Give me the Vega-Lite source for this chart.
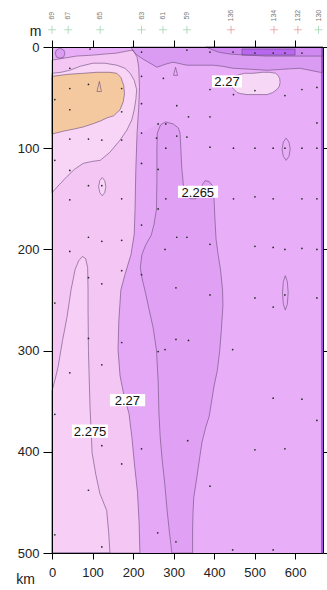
{
"$schema":"https://vega.github.io/schema/vega-lite/v6.json",
"width":271,"height":506,
"autosize":{"type":"none"},
"padding":{"left":52,"top":47,"right":4,"bottom":37},
"background":"white",
"config":{"view":{"stroke":null},"font":"Liberation Sans"},
"datasets":{
"polys":[
{"poly":"p00","zone":"base","i":0,"km":0,"m":0},{"poly":"p00","zone":"base","i":1,"km":669,"m":0},{"poly":"p00","zone":"base","i":2,"km":669,"m":500},{"poly":"p00","zone":"base","i":3,"km":0,"m":500},{"poly":"p00","zone":"base","i":4,"km":0,"m":0},
{"poly":"p01","zone":"topband","i":0,"km":195,"m":0},{"poly":"p01","zone":"topband","i":1,"km":669,"m":0},{"poly":"p01","zone":"topband","i":2,"km":669,"m":25},{"poly":"p01","zone":"topband","i":3,"km":662,"m":25},{"poly":"p01","zone":"topband","i":4,"km":612,"m":21},{"poly":"p01","zone":"topband","i":5,"km":570,"m":22},{"poly":"p01","zone":"topband","i":6,"km":531,"m":23},{"poly":"p01","zone":"topband","i":7,"km":490,"m":22},{"poly":"p01","zone":"topband","i":8,"km":447,"m":21},{"poly":"p01","zone":"topband","i":9,"km":420,"m":19},{"poly":"p01","zone":"topband","i":10,"km":398,"m":18},{"poly":"p01","zone":"topband","i":11,"km":365,"m":18},{"poly":"p01","zone":"topband","i":12,"km":333,"m":18},{"poly":"p01","zone":"topband","i":13,"km":310,"m":16},{"poly":"p01","zone":"topband","i":14,"km":299,"m":15},{"poly":"p01","zone":"topband","i":15,"km":280,"m":17},{"poly":"p01","zone":"topband","i":16,"km":259,"m":20},{"poly":"p01","zone":"topband","i":17,"km":242,"m":16},{"poly":"p01","zone":"topband","i":18,"km":225,"m":12},{"poly":"p01","zone":"topband","i":19,"km":210,"m":8},{"poly":"p01","zone":"topband","i":20,"km":200,"m":4},{"poly":"p01","zone":"topband","i":21,"km":195,"m":0},
{"poly":"p02","zone":"band2","i":0,"km":380,"m":0},{"poly":"p02","zone":"band2","i":1,"km":669,"m":0},{"poly":"p02","zone":"band2","i":2,"km":669,"m":9},{"poly":"p02","zone":"band2","i":3,"km":630,"m":9},{"poly":"p02","zone":"band2","i":4,"km":580,"m":9},{"poly":"p02","zone":"band2","i":5,"km":530,"m":9},{"poly":"p02","zone":"band2","i":6,"km":480,"m":8},{"poly":"p02","zone":"band2","i":7,"km":440,"m":7},{"poly":"p02","zone":"band2","i":8,"km":410,"m":5},{"poly":"p02","zone":"band2","i":9,"km":392,"m":2},{"poly":"p02","zone":"band2","i":10,"km":380,"m":0},
{"poly":"p03","zone":"strip","i":0,"km":469,"m":2},{"poly":"p03","zone":"strip","i":1,"km":600,"m":2},{"poly":"p03","zone":"strip","i":2,"km":600,"m":8},{"poly":"p03","zone":"strip","i":3,"km":469,"m":8},{"poly":"p03","zone":"strip","i":4,"km":469,"m":2},
{"poly":"p04","zone":"redge","i":0,"km":664,"m":0},{"poly":"p04","zone":"redge","i":1,"km":669,"m":0},{"poly":"p04","zone":"redge","i":2,"km":669,"m":500},{"poly":"p04","zone":"redge","i":3,"km":664,"m":500},{"poly":"p04","zone":"redge","i":4,"km":664,"m":0},
{"poly":"p05","zone":"patch","i":0,"km":440,"m":36},{"poly":"p05","zone":"patch","i":1,"km":447,"m":30},{"poly":"p05","zone":"patch","i":2,"km":457,"m":28},{"poly":"p05","zone":"patch","i":3,"km":475,"m":26},{"poly":"p05","zone":"patch","i":4,"km":496,"m":26},{"poly":"p05","zone":"patch","i":5,"km":520,"m":25},{"poly":"p05","zone":"patch","i":6,"km":538,"m":25},{"poly":"p05","zone":"patch","i":7,"km":552,"m":26},{"poly":"p05","zone":"patch","i":8,"km":558,"m":28},{"poly":"p05","zone":"patch","i":9,"km":562,"m":31},{"poly":"p05","zone":"patch","i":10,"km":563,"m":35},{"poly":"p05","zone":"patch","i":11,"km":561,"m":39},{"poly":"p05","zone":"patch","i":12,"km":555,"m":42},{"poly":"p05","zone":"patch","i":13,"km":545,"m":45},{"poly":"p05","zone":"patch","i":14,"km":531,"m":47},{"poly":"p05","zone":"patch","i":15,"km":505,"m":47},{"poly":"p05","zone":"patch","i":16,"km":481,"m":47},{"poly":"p05","zone":"patch","i":17,"km":465,"m":46},{"poly":"p05","zone":"patch","i":18,"km":457,"m":45},{"poly":"p05","zone":"patch","i":19,"km":447,"m":41},{"poly":"p05","zone":"patch","i":20,"km":440,"m":36},
{"poly":"p06","zone":"pink","i":0,"km":0,"m":13},{"poly":"p06","zone":"pink","i":1,"km":30,"m":11},{"poly":"p06","zone":"pink","i":2,"km":60,"m":9},{"poly":"p06","zone":"pink","i":3,"km":101,"m":8},{"poly":"p06","zone":"pink","i":4,"km":130,"m":7},{"poly":"p06","zone":"pink","i":5,"km":160,"m":6},{"poly":"p06","zone":"pink","i":6,"km":185,"m":4},{"poly":"p06","zone":"pink","i":7,"km":200,"m":3},{"poly":"p06","zone":"pink","i":8,"km":210,"m":10},{"poly":"p06","zone":"pink","i":9,"km":214,"m":20},{"poly":"p06","zone":"pink","i":10,"km":216,"m":40},{"poly":"p06","zone":"pink","i":11,"km":214,"m":60},{"poly":"p06","zone":"pink","i":12,"km":210,"m":85},{"poly":"p06","zone":"pink","i":13,"km":207,"m":120},{"poly":"p06","zone":"pink","i":14,"km":205,"m":160},{"poly":"p06","zone":"pink","i":15,"km":203,"m":185},{"poly":"p06","zone":"pink","i":16,"km":195,"m":205},{"poly":"p06","zone":"pink","i":17,"km":180,"m":225},{"poly":"p06","zone":"pink","i":18,"km":170,"m":240},{"poly":"p06","zone":"pink","i":19,"km":165,"m":270},{"poly":"p06","zone":"pink","i":20,"km":163,"m":299},{"poly":"p06","zone":"pink","i":21,"km":168,"m":325},{"poly":"p06","zone":"pink","i":22,"km":178,"m":345},{"poly":"p06","zone":"pink","i":23,"km":190,"m":362},{"poly":"p06","zone":"pink","i":24,"km":197,"m":385},{"poly":"p06","zone":"pink","i":25,"km":203,"m":410},{"poly":"p06","zone":"pink","i":26,"km":211,"m":440},{"poly":"p06","zone":"pink","i":27,"km":215,"m":470},{"poly":"p06","zone":"pink","i":28,"km":217,"m":500},{"poly":"p06","zone":"pink","i":29,"km":0,"m":500},{"poly":"p06","zone":"pink","i":30,"km":0,"m":13},
{"poly":"p07","zone":"light","i":0,"km":0,"m":26},{"poly":"p07","zone":"light","i":1,"km":22,"m":25},{"poly":"p07","zone":"light","i":2,"km":44,"m":23},{"poly":"p07","zone":"light","i":3,"km":70,"m":19},{"poly":"p07","zone":"light","i":4,"km":101,"m":16},{"poly":"p07","zone":"light","i":5,"km":130,"m":16},{"poly":"p07","zone":"light","i":6,"km":160,"m":18},{"poly":"p07","zone":"light","i":7,"km":180,"m":21},{"poly":"p07","zone":"light","i":8,"km":193,"m":26},{"poly":"p07","zone":"light","i":9,"km":203,"m":33},{"poly":"p07","zone":"light","i":10,"km":209,"m":42},{"poly":"p07","zone":"light","i":11,"km":207,"m":52},{"poly":"p07","zone":"light","i":12,"km":203,"m":62},{"poly":"p07","zone":"light","i":13,"km":197,"m":72},{"poly":"p07","zone":"light","i":14,"km":185,"m":82},{"poly":"p07","zone":"light","i":15,"km":168,"m":92},{"poly":"p07","zone":"light","i":16,"km":143,"m":104},{"poly":"p07","zone":"light","i":17,"km":119,"m":112},{"poly":"p07","zone":"light","i":18,"km":100,"m":113},{"poly":"p07","zone":"light","i":19,"km":77,"m":115},{"poly":"p07","zone":"light","i":20,"km":55,"m":121},{"poly":"p07","zone":"light","i":21,"km":37,"m":128},{"poly":"p07","zone":"light","i":22,"km":18,"m":136},{"poly":"p07","zone":"light","i":23,"km":0,"m":144},{"poly":"p07","zone":"light","i":24,"km":0,"m":26},
{"poly":"p08","zone":"orange","i":0,"km":0,"m":29},{"poly":"p08","zone":"orange","i":1,"km":20,"m":28},{"poly":"p08","zone":"orange","i":2,"km":40,"m":27},{"poly":"p08","zone":"orange","i":3,"km":77,"m":26},{"poly":"p08","zone":"orange","i":4,"km":110,"m":25},{"poly":"p08","zone":"orange","i":5,"km":143,"m":25},{"poly":"p08","zone":"orange","i":6,"km":160,"m":26},{"poly":"p08","zone":"orange","i":7,"km":170,"m":30},{"poly":"p08","zone":"orange","i":8,"km":177,"m":38},{"poly":"p08","zone":"orange","i":9,"km":179,"m":46},{"poly":"p08","zone":"orange","i":10,"km":176,"m":54},{"poly":"p08","zone":"orange","i":11,"km":168,"m":62},{"poly":"p08","zone":"orange","i":12,"km":152,"m":68},{"poly":"p08","zone":"orange","i":13,"km":136,"m":70},{"poly":"p08","zone":"orange","i":14,"km":120,"m":73},{"poly":"p08","zone":"orange","i":15,"km":100,"m":76},{"poly":"p08","zone":"orange","i":16,"km":77,"m":79},{"poly":"p08","zone":"orange","i":17,"km":55,"m":81},{"poly":"p08","zone":"orange","i":18,"km":30,"m":83},{"poly":"p08","zone":"orange","i":19,"km":0,"m":86},{"poly":"p08","zone":"orange","i":20,"km":0,"m":29},
{"poly":"p09","zone":"lowlight","i":0,"km":0,"m":340},{"poly":"p09","zone":"lowlight","i":1,"km":8,"m":328},{"poly":"p09","zone":"lowlight","i":2,"km":15,"m":316},{"poly":"p09","zone":"lowlight","i":3,"km":26,"m":290},{"poly":"p09","zone":"lowlight","i":4,"km":37,"m":267},{"poly":"p09","zone":"lowlight","i":5,"km":47,"m":240},{"poly":"p09","zone":"lowlight","i":6,"km":57,"m":220},{"poly":"p09","zone":"lowlight","i":7,"km":66,"m":211},{"poly":"p09","zone":"lowlight","i":8,"km":75,"m":207},{"poly":"p09","zone":"lowlight","i":9,"km":83,"m":209},{"poly":"p09","zone":"lowlight","i":10,"km":88,"m":218},{"poly":"p09","zone":"lowlight","i":11,"km":89,"m":240},{"poly":"p09","zone":"lowlight","i":12,"km":89,"m":260},{"poly":"p09","zone":"lowlight","i":13,"km":90,"m":300},{"poly":"p09","zone":"lowlight","i":14,"km":92,"m":330},{"poly":"p09","zone":"lowlight","i":15,"km":94,"m":357},{"poly":"p09","zone":"lowlight","i":16,"km":99,"m":401},{"poly":"p09","zone":"lowlight","i":17,"km":108,"m":422},{"poly":"p09","zone":"lowlight","i":18,"km":118,"m":441},{"poly":"p09","zone":"lowlight","i":19,"km":135,"m":458},{"poly":"p09","zone":"lowlight","i":20,"km":140,"m":480},{"poly":"p09","zone":"lowlight","i":21,"km":143,"m":500},{"poly":"p09","zone":"lowlight","i":22,"km":0,"m":500},{"poly":"p09","zone":"lowlight","i":23,"km":0,"m":340},
{"poly":"p10","zone":"band","i":0,"km":210,"m":88},{"poly":"p10","zone":"band","i":1,"km":235,"m":82},{"poly":"p10","zone":"band","i":2,"km":262,"m":76},{"poly":"p10","zone":"band","i":3,"km":280,"m":74},{"poly":"p10","zone":"band","i":4,"km":299,"m":76},{"poly":"p10","zone":"band","i":5,"km":312,"m":80},{"poly":"p10","zone":"band","i":6,"km":316,"m":85},{"poly":"p10","zone":"band","i":7,"km":318,"m":100},{"poly":"p10","zone":"band","i":8,"km":320,"m":118},{"poly":"p10","zone":"band","i":9,"km":324,"m":135},{"poly":"p10","zone":"band","i":10,"km":328,"m":144},{"poly":"p10","zone":"band","i":11,"km":341,"m":150},{"poly":"p10","zone":"band","i":12,"km":355,"m":150},{"poly":"p10","zone":"band","i":13,"km":365,"m":146},{"poly":"p10","zone":"band","i":14,"km":371,"m":136},{"poly":"p10","zone":"band","i":15,"km":378,"m":132},{"poly":"p10","zone":"band","i":16,"km":388,"m":133},{"poly":"p10","zone":"band","i":17,"km":396,"m":137},{"poly":"p10","zone":"band","i":18,"km":400,"m":150},{"poly":"p10","zone":"band","i":19,"km":402,"m":168},{"poly":"p10","zone":"band","i":20,"km":405,"m":190},{"poly":"p10","zone":"band","i":21,"km":410,"m":205},{"poly":"p10","zone":"band","i":22,"km":416,"m":220},{"poly":"p10","zone":"band","i":23,"km":421,"m":240},{"poly":"p10","zone":"band","i":24,"km":422,"m":255},{"poly":"p10","zone":"band","i":25,"km":418,"m":280},{"poly":"p10","zone":"band","i":26,"km":414,"m":300},{"poly":"p10","zone":"band","i":27,"km":408,"m":320},{"poly":"p10","zone":"band","i":28,"km":400,"m":335},{"poly":"p10","zone":"band","i":29,"km":388,"m":365},{"poly":"p10","zone":"band","i":30,"km":380,"m":375},{"poly":"p10","zone":"band","i":31,"km":370,"m":391},{"poly":"p10","zone":"band","i":32,"km":358,"m":424},{"poly":"p10","zone":"band","i":33,"km":350,"m":445},{"poly":"p10","zone":"band","i":34,"km":348,"m":460},{"poly":"p10","zone":"band","i":35,"km":347,"m":480},{"poly":"p10","zone":"band","i":36,"km":347,"m":500},{"poly":"p10","zone":"band","i":37,"km":217,"m":500},{"poly":"p10","zone":"band","i":38,"km":215,"m":470},{"poly":"p10","zone":"band","i":39,"km":211,"m":440},{"poly":"p10","zone":"band","i":40,"km":203,"m":410},{"poly":"p10","zone":"band","i":41,"km":197,"m":385},{"poly":"p10","zone":"band","i":42,"km":190,"m":362},{"poly":"p10","zone":"band","i":43,"km":178,"m":345},{"poly":"p10","zone":"band","i":44,"km":168,"m":325},{"poly":"p10","zone":"band","i":45,"km":163,"m":299},{"poly":"p10","zone":"band","i":46,"km":165,"m":270},{"poly":"p10","zone":"band","i":47,"km":170,"m":240},{"poly":"p10","zone":"band","i":48,"km":180,"m":225},{"poly":"p10","zone":"band","i":49,"km":195,"m":205},{"poly":"p10","zone":"band","i":50,"km":203,"m":185},{"poly":"p10","zone":"band","i":51,"km":205,"m":160},{"poly":"p10","zone":"band","i":52,"km":207,"m":120},{"poly":"p10","zone":"band","i":53,"km":210,"m":88},
{"poly":"p11","zone":"loop","i":0,"km":268,"m":77},{"poly":"p11","zone":"loop","i":1,"km":280,"m":74},{"poly":"p11","zone":"loop","i":2,"km":299,"m":76},{"poly":"p11","zone":"loop","i":3,"km":312,"m":80},{"poly":"p11","zone":"loop","i":4,"km":316,"m":85},{"poly":"p11","zone":"loop","i":5,"km":318,"m":100},{"poly":"p11","zone":"loop","i":6,"km":320,"m":118},{"poly":"p11","zone":"loop","i":7,"km":324,"m":135},{"poly":"p11","zone":"loop","i":8,"km":328,"m":144},{"poly":"p11","zone":"loop","i":9,"km":341,"m":150},{"poly":"p11","zone":"loop","i":10,"km":355,"m":150},{"poly":"p11","zone":"loop","i":11,"km":365,"m":146},{"poly":"p11","zone":"loop","i":12,"km":371,"m":136},{"poly":"p11","zone":"loop","i":13,"km":378,"m":132},{"poly":"p11","zone":"loop","i":14,"km":388,"m":133},{"poly":"p11","zone":"loop","i":15,"km":396,"m":137},{"poly":"p11","zone":"loop","i":16,"km":400,"m":150},{"poly":"p11","zone":"loop","i":17,"km":402,"m":168},{"poly":"p11","zone":"loop","i":18,"km":405,"m":190},{"poly":"p11","zone":"loop","i":19,"km":410,"m":205},{"poly":"p11","zone":"loop","i":20,"km":416,"m":220},{"poly":"p11","zone":"loop","i":21,"km":421,"m":240},{"poly":"p11","zone":"loop","i":22,"km":422,"m":255},{"poly":"p11","zone":"loop","i":23,"km":418,"m":280},{"poly":"p11","zone":"loop","i":24,"km":414,"m":300},{"poly":"p11","zone":"loop","i":25,"km":408,"m":320},{"poly":"p11","zone":"loop","i":26,"km":400,"m":335},{"poly":"p11","zone":"loop","i":27,"km":388,"m":365},{"poly":"p11","zone":"loop","i":28,"km":380,"m":375},{"poly":"p11","zone":"loop","i":29,"km":370,"m":391},{"poly":"p11","zone":"loop","i":30,"km":358,"m":424},{"poly":"p11","zone":"loop","i":31,"km":350,"m":445},{"poly":"p11","zone":"loop","i":32,"km":348,"m":460},{"poly":"p11","zone":"loop","i":33,"km":347,"m":480},{"poly":"p11","zone":"loop","i":34,"km":347,"m":500},{"poly":"p11","zone":"loop","i":35,"km":296,"m":500},{"poly":"p11","zone":"loop","i":36,"km":290,"m":480},{"poly":"p11","zone":"loop","i":37,"km":284,"m":457},{"poly":"p11","zone":"loop","i":38,"km":278,"m":430},{"poly":"p11","zone":"loop","i":39,"km":272,"m":408},{"poly":"p11","zone":"loop","i":40,"km":267,"m":385},{"poly":"p11","zone":"loop","i":41,"km":264,"m":362},{"poly":"p11","zone":"loop","i":42,"km":262,"m":330},{"poly":"p11","zone":"loop","i":43,"km":258,"m":300},{"poly":"p11","zone":"loop","i":44,"km":250,"m":278},{"poly":"p11","zone":"loop","i":45,"km":240,"m":260},{"poly":"p11","zone":"loop","i":46,"km":232,"m":245},{"poly":"p11","zone":"loop","i":47,"km":222,"m":228},{"poly":"p11","zone":"loop","i":48,"km":218,"m":218},{"poly":"p11","zone":"loop","i":49,"km":222,"m":205},{"poly":"p11","zone":"loop","i":50,"km":232,"m":195},{"poly":"p11","zone":"loop","i":51,"km":245,"m":186},{"poly":"p11","zone":"loop","i":52,"km":252,"m":175},{"poly":"p11","zone":"loop","i":53,"km":258,"m":160},{"poly":"p11","zone":"loop","i":54,"km":259,"m":130},{"poly":"p11","zone":"loop","i":55,"km":259,"m":100},{"poly":"p11","zone":"loop","i":56,"km":260,"m":85},{"poly":"p11","zone":"loop","i":57,"km":268,"m":77},
{"poly":"p12","zone":"base","i":0,"km":578,"m":90},{"poly":"p12","zone":"base","i":1,"km":585,"m":94},{"poly":"p12","zone":"base","i":2,"km":588,"m":101},{"poly":"p12","zone":"base","i":3,"km":585,"m":108},{"poly":"p12","zone":"base","i":4,"km":578,"m":112},{"poly":"p12","zone":"base","i":5,"km":571,"m":108},{"poly":"p12","zone":"base","i":6,"km":568,"m":101},{"poly":"p12","zone":"base","i":7,"km":571,"m":94},{"poly":"p12","zone":"base","i":8,"km":578,"m":90},
{"poly":"p13","zone":"base","i":0,"km":576,"m":226},{"poly":"p13","zone":"base","i":1,"km":581,"m":232},{"poly":"p13","zone":"base","i":2,"km":583,"m":243},{"poly":"p13","zone":"base","i":3,"km":581,"m":254},{"poly":"p13","zone":"base","i":4,"km":576,"m":260},{"poly":"p13","zone":"base","i":5,"km":571,"m":254},{"poly":"p13","zone":"base","i":6,"km":569,"m":243},{"poly":"p13","zone":"base","i":7,"km":571,"m":232},{"poly":"p13","zone":"base","i":8,"km":576,"m":226},
{"poly":"p14","zone":"light","i":0,"km":124,"m":129},{"poly":"p14","zone":"light","i":1,"km":130,"m":132},{"poly":"p14","zone":"light","i":2,"km":133,"m":138},{"poly":"p14","zone":"light","i":3,"km":130,"m":144},{"poly":"p14","zone":"light","i":4,"km":124,"m":147},{"poly":"p14","zone":"light","i":5,"km":118,"m":144},{"poly":"p14","zone":"light","i":6,"km":115,"m":138},{"poly":"p14","zone":"light","i":7,"km":118,"m":132},{"poly":"p14","zone":"light","i":8,"km":124,"m":129},
{"poly":"p15","zone":"dark","i":0,"km":20,"m":1},{"poly":"p15","zone":"dark","i":1,"km":29,"m":3},{"poly":"p15","zone":"dark","i":2,"km":32,"m":6},{"poly":"p15","zone":"dark","i":3,"km":29,"m":10},{"poly":"p15","zone":"dark","i":4,"km":20,"m":11},{"poly":"p15","zone":"dark","i":5,"km":11,"m":10},{"poly":"p15","zone":"dark","i":6,"km":8,"m":6},{"poly":"p15","zone":"dark","i":7,"km":11,"m":3},{"poly":"p15","zone":"dark","i":8,"km":20,"m":1},
{"poly":"p16","zone":"base","i":0,"km":305,"m":20},{"poly":"p16","zone":"base","i":1,"km":310,"m":28},{"poly":"p16","zone":"base","i":2,"km":300,"m":28},{"poly":"p16","zone":"base","i":3,"km":305,"m":20},
{"poly":"p17","zone":"orange","i":0,"km":117,"m":34},{"poly":"p17","zone":"orange","i":1,"km":122,"m":44},{"poly":"p17","zone":"orange","i":2,"km":111,"m":44},{"poly":"p17","zone":"orange","i":3,"km":117,"m":34}
],
"dots":[
{"km":94,"m":2},{"km":221,"m":5},{"km":333,"m":3},{"km":390,"m":5},{"km":447,"m":5},{"km":501,"m":6},{"km":546,"m":6},{"km":575,"m":6},{"km":617,"m":6},
{"km":44,"m":21},{"km":221,"m":29},{"km":275,"m":31},{"km":390,"m":42},{"km":448,"m":47},{"km":501,"m":43},{"km":575,"m":48},{"km":617,"m":42},{"km":654,"m":40},{"km":90,"m":37},{"km":44,"m":41},{"km":172,"m":41},{"km":7,"m":52},
{"km":44,"m":62},{"km":172,"m":64},{"km":221,"m":56},{"km":308,"m":58},{"km":337,"m":69},{"km":390,"m":69},{"km":262,"m":76},{"km":281,"m":76},{"km":221,"m":85},{"km":258,"m":90},{"km":308,"m":88},{"km":333,"m":89},{"km":44,"m":91},{"km":90,"m":91},{"km":123,"m":92},{"km":172,"m":92},{"km":281,"m":100},{"km":390,"m":99},{"km":448,"m":100},{"km":501,"m":100},{"km":546,"m":100},{"km":575,"m":100},{"km":617,"m":100},{"km":654,"m":100},{"km":654,"m":75},{"km":7,"m":112},{"km":44,"m":122},{"km":221,"m":115},{"km":262,"m":121},{"km":90,"m":137},{"km":123,"m":137},{"km":44,"m":151},{"km":172,"m":150},{"km":262,"m":160},{"km":281,"m":150},{"km":333,"m":138},{"km":448,"m":150},{"km":501,"m":148},{"km":546,"m":150},{"km":617,"m":150},{"km":654,"m":150},{"km":221,"m":176},{"km":90,"m":188},{"km":123,"m":192},{"km":172,"m":191},{"km":308,"m":188},{"km":333,"m":188},{"km":390,"m":195},{"km":501,"m":197},{"km":546,"m":198},{"km":575,"m":200},{"km":617,"m":199},{"km":654,"m":200},{"km":44,"m":202},{"km":279,"m":200},
{"km":7,"m":253},{"km":90,"m":228},{"km":123,"m":234},{"km":172,"m":221},{"km":221,"m":225},{"km":306,"m":238},{"km":390,"m":245},{"km":501,"m":248},{"km":546,"m":257},{"km":575,"m":245},{"km":654,"m":248},{"km":90,"m":288},{"km":172,"m":292},{"km":262,"m":301},{"km":279,"m":299},{"km":306,"m":289},{"km":337,"m":290},{"km":446,"m":299},{"km":44,"m":322},{"km":123,"m":314},{"km":546,"m":347},{"km":617,"m":348},{"km":7,"m":363},
{"km":123,"m":394},{"km":172,"m":412},{"km":221,"m":397},{"km":335,"m":389},{"km":390,"m":434},{"km":501,"m":398},{"km":575,"m":397},{"km":654,"m":369},{"km":90,"m":438},{"km":7,"m":482},{"km":123,"m":494},{"km":261,"m":480},{"km":306,"m":489},{"km":446,"m":497},{"km":546,"m":497}
],
"labels":[
{"t":"2.27","km":432,"m":34,"x0":395,"x1":469,"y0":28,"y1":40},
{"t":"2.265","km":360,"m":143,"x0":311,"x1":410,"y0":137,"y1":149},
{"t":"2.27","km":186,"m":349,"x0":143,"x1":230,"y0":343,"y1":355},
{"t":"2.275","km":94,"m":379,"x0":49,"x1":138,"y0":373,"y1":386}
],
"stations":[
{"st":"69","km":0,"grp":"a"},{"st":"67","km":40,"grp":"a"},{"st":"65","km":119,"grp":"a"},{"st":"63","km":221,"grp":"a"},{"st":"61","km":274,"grp":"a"},{"st":"59","km":333,"grp":"a"},{"st":"136","km":442,"grp":"b"},{"st":"134","km":548,"grp":"b"},{"st":"132","km":607,"grp":"b"},{"st":"130","km":658,"grp":"a"}
]
},
"resolve":{"axis":{"x":"independent","y":"independent"},"scale":{"color":"independent"}},
"layer":[
{"data":{"name":"polys"},
 "mark":{"type":"line","filled":true,"strokeWidth":0},
 "encoding":{
  "x":{"field":"km","type":"quantitative","scale":{"domain":[0,669],"nice":false,"zero":false},
   "axis":{"orient":"bottom","values":[0,100,200,300,400,500,600],"tickSize":6,"tickColor":"#000","domainColor":"#000","domainWidth":1,"labelFontSize":13,"labelColor":"#222","labelPadding":7,"labelFlush":false,"labelOverlap":false,"grid":false,"zindex":1,"title":"km","titleFontSize":14,"titleFontWeight":"normal","titleColor":"#222","titleX":-27,"titleY":30,"titleAlign":"center","titleBaseline":"alphabetic","titleAngle":0}},
  "y":{"field":"m","type":"quantitative","scale":{"domain":[0,500],"nice":false,"zero":false,"reverse":true},
   "axis":{"orient":"left","values":[0,100,200,300,400,500],"tickSize":9,"tickColor":"#000","domainColor":"#000","domainWidth":1,"labelFontSize":13,"labelColor":"#222","labelPadding":4,"labelFlush":false,"labelOverlap":false,"grid":false,"zindex":1,"title":"m","titleFontSize":14,"titleFontWeight":"normal","titleColor":"#222","titleX":-17,"titleY":-12,"titleAlign":"center","titleBaseline":"alphabetic","titleAngle":0}},
  "order":{"field":"i","type":"quantitative"},
  "detail":{"field":"poly","type":"nominal"},
  "color":{"field":"zone","type":"nominal","legend":null,
   "scale":{"domain":["base","topband","band2","strip","redge","patch","pink","light","orange","lowlight","band","loop","dark"],
            "range":["#E8AEF7","#DA9CF3","#CF89F0","#B868F0","#A850EE","#F6D8F6","#F4C6F4","#F8D4F7","#F5C99F","#F7CEF6","#E4A8F6","#E0A1F4","#DC9CF2"]}}
 }},
{"data":{"name":"polys"},
 "transform":[{"filter":{"not":{"field":"poly","oneOf":["p00","p04","p10"]}}}],
 "mark":{"type":"line","stroke":"#6a4a78","strokeWidth":0.6},
 "encoding":{
  "x":{"field":"km","type":"quantitative","scale":{"domain":[0,669],"nice":false,"zero":false},
   "axis":{"orient":"top","values":[0,100,200,300,400,500,600],"tickSize":7,"tickColor":"#000","domainColor":"#000","labels":false,"grid":false,"title":null,"zindex":1}},
  "y":{"field":"m","type":"quantitative","scale":{"domain":[0,500],"nice":false,"zero":false,"reverse":true},
   "axis":{"orient":"right","values":[0,100,200,300,400,500],"tickSize":4,"tickColor":"#000","domainColor":"#000","labels":false,"grid":false,"title":null,"zindex":1}},
  "order":{"field":"i","type":"quantitative"},
  "detail":{"field":"poly","type":"nominal"}
 }},
{"data":{"name":"dots"},
 "mark":{"type":"point","filled":true,"size":3,"color":"#2a2a2a","opacity":1},
 "encoding":{
  "x":{"field":"km","type":"quantitative","scale":{"domain":[0,669],"nice":false,"zero":false},"axis":null},
  "y":{"field":"m","type":"quantitative","scale":{"domain":[0,500],"nice":false,"zero":false,"reverse":true},"axis":null}
 }},
{"data":{"name":"labels"},
 "mark":{"type":"rect","color":"white","opacity":1},
 "encoding":{
  "x":{"field":"x0","type":"quantitative","scale":{"domain":[0,669],"nice":false,"zero":false},"axis":null},
  "x2":{"field":"x1"},
  "y":{"field":"y0","type":"quantitative","scale":{"domain":[0,500],"nice":false,"zero":false,"reverse":true},"axis":null},
  "y2":{"field":"y1"}
 }},
{"data":{"name":"labels"},
 "mark":{"type":"text","fontSize":13,"color":"#111","align":"center","baseline":"middle","dy":1},
 "encoding":{
  "x":{"field":"km","type":"quantitative","scale":{"domain":[0,669],"nice":false,"zero":false},"axis":null},
  "y":{"field":"m","type":"quantitative","scale":{"domain":[0,500],"nice":false,"zero":false,"reverse":true},"axis":null},
  "text":{"field":"t"}
 }},
{"data":{"name":"stations"},
 "mark":{"type":"point","shape":"M-1,0H1M0,-1V1","size":64,"filled":false,"strokeWidth":0.8,"opacity":1},
 "encoding":{
  "x":{"field":"km","type":"quantitative","scale":{"domain":[0,669],"nice":false,"zero":false},"axis":null},
  "y":{"datum":-17,"type":"quantitative","scale":{"domain":[0,500],"nice":false,"zero":false,"reverse":true},"axis":null},
  "color":{"field":"grp","type":"nominal","legend":null,"scale":{"domain":["a","b"],"range":["#9fd4ae","#e39a9a"]}}
 }},
{"data":{"name":"stations"},
 "mark":{"type":"text","fontSize":7,"color":"#777","angle":270,"align":"center","baseline":"middle"},
 "encoding":{
  "x":{"field":"km","type":"quantitative","scale":{"domain":[0,669],"nice":false,"zero":false},"axis":null},
  "y":{"datum":-31,"type":"quantitative","scale":{"domain":[0,500],"nice":false,"zero":false,"reverse":true},"axis":null},
  "text":{"field":"st"}
 }}
]
}
